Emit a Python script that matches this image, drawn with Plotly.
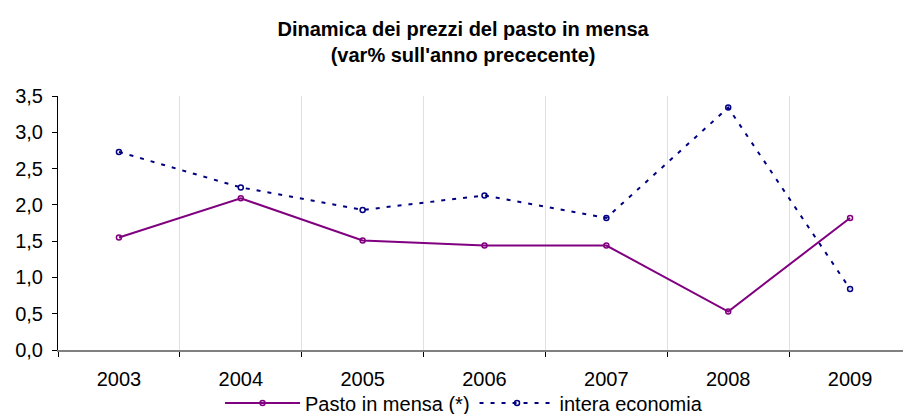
import plotly.graph_objects as go

years = ["2003", "2004", "2005", "2006", "2007", "2008", "2009"]
pasto = [1.55, 2.09, 1.51, 1.44, 1.44, 0.53, 1.82]
intera = [2.73, 2.24, 1.93, 2.13, 1.82, 3.34, 0.84]
y_ticks = [0.0, 0.5, 1.0, 1.5, 2.0, 2.5, 3.0, 3.5]

FONT = "Liberation Sans, Arial, sans-serif"

fig = go.Figure()
fig.add_trace(go.Scatter(
    x=years, y=pasto, name="Pasto in mensa (*)", mode="lines+markers",
    line=dict(color="#800080", width=2),
    marker=dict(symbol="circle-open", size=5, color="#800080", line=dict(width=1.5)),
))
fig.add_trace(go.Scatter(
    x=years, y=intera, name="intera economia", mode="lines+markers",
    line=dict(color="#000080", width=2, dash="4px,7px"),
    marker=dict(symbol="circle-open", size=5, color="#000080", line=dict(width=1.5)),
))

fig.update_layout(
    width=903, height=406,
    margin=dict(l=50, r=0, t=88, b=64, autoexpand=False),
    paper_bgcolor="white", plot_bgcolor="white",
    separators=",.",
    font=dict(family=FONT, color="black", size=20),
    title=dict(
        text="<b>Dinamica dei prezzi del pasto in mensa<br>(var% sull'anno prececente)</b>",
        x=0.504, xanchor="center", y=0.93, yanchor="top",
        font=dict(size=20, family=FONT),
    ),
    showlegend=True,
    legend=dict(orientation="h", x=0.476, xanchor="center",
                yref="container", y=0.027, yanchor="middle",
                font=dict(size=20), itemwidth=75, tracegroupgap=0,
                bgcolor="rgba(0,0,0,0)"),
)
fig.update_xaxes(
    type="category", tickson="boundaries", ticks="outside", ticklen=5,
    tickcolor="black", showline=True, linecolor="#808080", linewidth=1.5,
    showgrid=True, gridcolor="#e0e0e0", gridwidth=1,
    tickfont=dict(size=20), range=[-0.5, 6.5], automargin=False,
    ticklabelstandoff=10,
)
fig.update_yaxes(
    range=[0, 3.5], tickvals=y_ticks, tickformat=".1f",
    ticks="outside", ticklen=5, tickcolor="black",
    showline=True, linecolor="black", linewidth=1,
    showgrid=False, zeroline=False, tickfont=dict(size=20), automargin=False,
    ticklabelstandoff=5,
)

fig.write_html("out.html")
